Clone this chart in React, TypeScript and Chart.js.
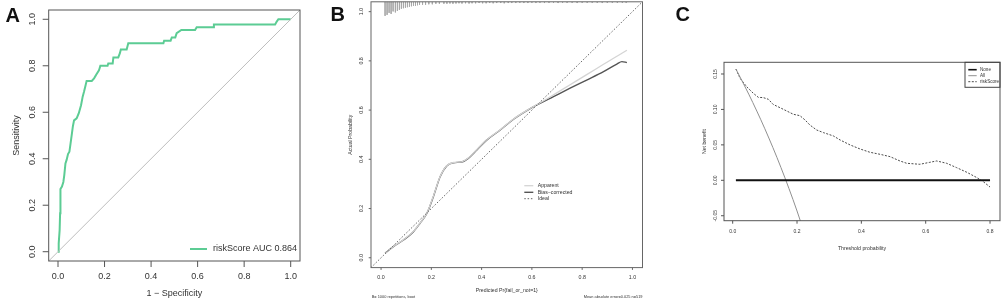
import { useEffect, useRef } from 'react';
import { Chart, registerables } from 'chart.js';
Chart.register(...registerables);

// ---------- Panel A: ROC ----------
const rocFpr = [0, 0.003, 0.007, 0.009, 0.010, 0.011, 0.017, 0.023, 0.027, 0.032, 0.037, 0.043, 0.049, 0.054, 0.060, 0.064, 0.069, 0.080, 0.089, 0.099, 0.106, 0.112, 0.117, 0.123, 0.145, 0.155, 0.166, 0.176, 0.182, 0.213, 0.216, 0.235, 0.238, 0.259, 0.266, 0.270, 0.295, 0.302, 0.453, 0.456, 0.484, 0.489, 0.504, 0.510, 0.530, 0.589, 0.596, 0.668, 0.670, 0.933, 0.940, 0.947, 1.0];
const rocTpr = [0, 0.036, 0.093, 0.165, 0.22, 0.27, 0.28, 0.30, 0.33, 0.38, 0.395, 0.42, 0.43, 0.466, 0.51, 0.54, 0.565, 0.574, 0.595, 0.63, 0.667, 0.689, 0.71, 0.735, 0.735, 0.746, 0.765, 0.78, 0.80, 0.80, 0.81, 0.81, 0.836, 0.836, 0.854, 0.87, 0.87, 0.897, 0.897, 0.908, 0.908, 0.922, 0.922, 0.94, 0.954, 0.954, 0.966, 0.966, 0.978, 0.978, 0.99, 1.0, 1.0];
const rocLegend = 'riskScore AUC 0.864';
const unitTicks = [0, 0.2, 0.4, 0.6, 0.8, 1.0];
const unitTickLabels = ['0.0', '0.2', '0.4', '0.6', '0.8', '1.0'];

// ---------- Panel B: calibration ----------
const calX = [0.016, 0.049, 0.089, 0.129, 0.155, 0.182, 0.208, 0.235, 0.261, 0.288, 0.321, 0.347, 0.381, 0.42, 0.474, 0.527, 0.58, 0.62, 0.686, 0.752, 0.818, 0.885, 0.938, 0.958, 0.978];
const calBias = [0.018, 0.045, 0.072, 0.106, 0.14, 0.18, 0.248, 0.329, 0.373, 0.386, 0.389, 0.404, 0.438, 0.478, 0.519, 0.563, 0.598, 0.621, 0.655, 0.689, 0.722, 0.756, 0.787, 0.797, 0.793];
const calApparent = [0.017, 0.046, 0.073, 0.107, 0.141, 0.181, 0.25, 0.33, 0.374, 0.387, 0.39, 0.405, 0.44, 0.479, 0.52, 0.564, 0.599, 0.622, 0.662, 0.703, 0.744, 0.786, 0.819, 0.831, 0.843];
const rugX = [0.016, 0.024, 0.032, 0.040, 0.048, 0.057, 0.065, 0.073, 0.081, 0.089, 0.097, 0.105, 0.113, 0.121, 0.129, 0.137, 0.145, 0.153, 0.165, 0.177, 0.19, 0.204, 0.218, 0.232, 0.25,
  0.262, 0.274, 0.286, 0.298, 0.31, 0.322, 0.336, 0.35, 0.362, 0.376, 0.39, 0.404, 0.418, 0.432, 0.446, 0.46, 0.476, 0.49, 0.506, 0.52, 0.536, 0.552, 0.568, 0.584, 0.6, 0.616, 0.632, 0.65, 0.668, 0.686, 0.704, 0.722, 0.74, 0.76, 0.78, 0.8, 0.82, 0.84, 0.86, 0.88, 0.9, 0.92, 0.94, 0.96, 0.975];
const rugLen = [0.057, 0.053, 0.045, 0.049, 0.039, 0.043, 0.037, 0.033, 0.028, 0.026, 0.024, 0.022, 0.020, 0.018, 0.016, 0.016, 0.014, 0.012, 0.012, 0.012, 0.010, 0.010, 0.008, 0.008, 0.008,
  0.008, 0.007, 0.008, 0.007, 0.006, 0.007, 0.006, 0.007, 0.006, 0.006, 0.005, 0.006, 0.006, 0.005, 0.006, 0.005, 0.005, 0.006, 0.005, 0.005, 0.005, 0.004, 0.005, 0.005, 0.004, 0.005, 0.004, 0.005, 0.004, 0.004, 0.005, 0.004, 0.004, 0.004, 0.005, 0.004, 0.004, 0.004, 0.004, 0.005, 0.004, 0.004, 0.004, 0.004, 0.004];
const calLegend = ['Apparent', 'Bias\u2212corrected', 'Ideal'];
const calXTitle = 'Predicted Pr{fail_or_not=1}';
const calYTitle = 'Actual Probability';
const calSubLeft = 'B= 1000 repetitions, boot';
const calSubRight = 'Mean absolute error=0.025 n=519';

// ---------- Panel C: decision curve ----------
const dcaThreshold = [0.01, 0.023, 0.0435, 0.064, 0.080, 0.095, 0.111, 0.126, 0.147, 0.168, 0.189, 0.209, 0.225, 0.240, 0.261, 0.282, 0.313, 0.334, 0.365, 0.396, 0.427, 0.458, 0.489, 0.520, 0.541, 0.582, 0.613, 0.634, 0.665, 0.696, 0.728, 0.759, 0.779, 0.80];
const dcaRisk = [0.157, 0.144, 0.132, 0.1228, 0.117, 0.1167, 0.1143, 0.107, 0.1025, 0.0978, 0.0931, 0.0912, 0.0851, 0.078, 0.071, 0.0673, 0.0626, 0.0569, 0.0499, 0.0442, 0.0395, 0.0367, 0.0334, 0.0273, 0.024, 0.0226, 0.0254, 0.0273, 0.024, 0.0179, 0.0113, 0.0038, -0.0019, -0.0095];
const dcaAllThreshold = [0.01, 0.05, 0.10, 0.15, 0.20, 0.25];
const dcaAll = [0.157, 0.1215, 0.0727, 0.0181, -0.0433, -0.1128];
const dcaNoneThreshold = [0.01, 0.80];
const dcaNone = [0, 0];
const dcaXTicks = [0, 0.2, 0.4, 0.6, 0.8];
const dcaXTickLabels = ['0.0', '0.2', '0.4', '0.6', '0.8'];
const dcaYTicks = [-0.05, 0, 0.05, 0.10, 0.15];
const dcaYTickLabels = ['-0.05', '0.00', '0.05', '0.10', '0.15'];
const dcaLegend = ['None', 'All', 'riskScore'];

const W = 1002;
const H = 302;
const FF = '"Liberation Sans", Arial, Helvetica, sans-serif';
const font = (s: number, bold = false) => `${bold ? 'bold ' : ''}${s}px ${FF}`;

const pts = (xs: number[], ys: number[]) => xs.map((x, i) => ({ x, y: ys[i] }));

type PanelCfg = {
  letter: string; letterX: number; letterY: number;
  xTicks: number[]; xTickLabels: string[]; yTicks: number[]; yTickLabels: string[];
  tickLen: number; tickFont: number; xLabelOff: number; yLabelOff: number;
  xTitle: string; yTitle: string; titleFont: number; xTitleOff: number; yTitleOff: number;
  boxColor: string; textColor: string;
  extra?: (ctx: CanvasRenderingContext2D, chart: any) => void;
};

function seg(ctx: CanvasRenderingContext2D, x1: number, y1: number, x2: number, y2: number) {
  ctx.beginPath(); ctx.moveTo(x1, y1); ctx.lineTo(x2, y2); ctx.stroke();
}

function panelPlugin(c: PanelCfg) {
  return {
    id: 'rPanel' + c.letter,
    afterDraw(chart: any) {
      const ctx: CanvasRenderingContext2D = chart.ctx;
      const a = chart.chartArea;
      const xs = chart.scales.x, ys = chart.scales.y;
      ctx.save();
      ctx.strokeStyle = c.boxColor; ctx.lineWidth = 1; ctx.setLineDash([]);
      ctx.strokeRect(a.left, a.top, a.right - a.left, a.bottom - a.top);
      ctx.fillStyle = c.textColor;
      ctx.font = font(c.tickFont);
      ctx.textAlign = 'center'; ctx.textBaseline = 'middle';
      c.xTicks.forEach((v, i) => {
        const px = xs.getPixelForValue(v);
        seg(ctx, px, a.bottom, px, a.bottom + c.tickLen);
        ctx.fillText(c.xTickLabels[i], px, a.bottom + c.xLabelOff);
      });
      c.yTicks.forEach((v, i) => {
        const py = ys.getPixelForValue(v);
        seg(ctx, a.left - c.tickLen, py, a.left, py);
        ctx.save(); ctx.translate(a.left - c.yLabelOff, py); ctx.rotate(-Math.PI / 2);
        ctx.fillText(c.yTickLabels[i], 0, 0); ctx.restore();
      });
      ctx.font = font(c.titleFont);
      ctx.fillText(c.xTitle, (a.left + a.right) / 2, a.bottom + c.xTitleOff);
      ctx.save(); ctx.translate(a.left - c.yTitleOff, (a.top + a.bottom) / 2); ctx.rotate(-Math.PI / 2);
      ctx.fillText(c.yTitle, 0, 0); ctx.restore();
      if (c.extra) c.extra(ctx, chart);
      ctx.fillStyle = '#111'; ctx.font = font(20, true);
      ctx.textAlign = 'left'; ctx.textBaseline = 'alphabetic';
      ctx.fillText(c.letter, c.letterX, c.letterY);
      ctx.restore();
    },
  };
}

function baseOptions(pad: { left: number; top: number; right: number; bottom: number }, xr: number[], yr: number[]) {
  return {
    responsive: false,
    animation: false as const,
    events: [] as any[],
    layout: { padding: pad },
    plugins: { legend: { display: false }, tooltip: { enabled: false }, title: { display: false } },
    scales: {
      x: { type: 'linear' as const, min: xr[0], max: xr[1], display: false },
      y: { type: 'linear' as const, min: yr[0], max: yr[1], display: false },
    },
  };
}

const GREEN = 'rgb(92,204,148)';

export default function App() {
  const refA = useRef<HTMLCanvasElement>(null);
  const refB = useRef<HTMLCanvasElement>(null);
  const refC = useRef<HTMLCanvasElement>(null);

  useEffect(() => {
    const charts: Chart[] = [];

    // ---- A ----
    const boxA = { left: 48.7, top: 10, right: 300, bottom: 261 };
    charts.push(new Chart(refA.current!, {
      type: 'scatter',
      data: {
        datasets: [
          { data: [{ x: -0.04, y: -0.04 }, { x: 1.04, y: 1.04 }], showLine: true, borderColor: '#bdbdbd', borderWidth: 1, pointRadius: 0 },
          { data: pts(rocFpr, rocTpr), showLine: true, borderColor: GREEN, borderWidth: 2, pointRadius: 0 },
        ],
      },
      options: baseOptions({ left: boxA.left, top: boxA.top, right: W - boxA.right, bottom: H - boxA.bottom }, [-0.04, 1.04], [-0.04, 1.04]) as any,
      plugins: [panelPlugin({
        letter: 'A', letterX: 5.5, letterY: 21.7,
        xTicks: unitTicks, xTickLabels: unitTickLabels, yTicks: unitTicks, yTickLabels: unitTickLabels,
        tickLen: 6, tickFont: 9, xLabelOff: 15.7, yLabelOff: 16.4,
        xTitle: '1 \u2212 Specificity', yTitle: 'Sensitivity', titleFont: 9, xTitleOff: 32.3, yTitleOff: 31.7,
        boxColor: '#555', textColor: '#333',
        extra: (ctx) => {
          ctx.strokeStyle = GREEN; ctx.lineWidth = 2;
          seg(ctx, 190, 249, 207, 249);
          ctx.fillStyle = '#333'; ctx.font = font(9); ctx.textAlign = 'left'; ctx.textBaseline = 'middle';
          ctx.fillText(rocLegend, 213, 249);
        },
      })],
    }));

    // ---- B ----
    const boxB = { left: 371, top: 1.8, right: 642.5, bottom: 267.6 };
    const rugPts: { x: number; y: number | null }[] = [];
    rugX.forEach((x, i) => { rugPts.push({ x, y: 1.04 }, { x, y: 1.04 - rugLen[i] }, { x, y: null }); });
    charts.push(new Chart(refB.current!, {
      type: 'scatter',
      data: {
        datasets: [
          { data: rugPts as any, showLine: true, spanGaps: false, borderColor: '#a8a8a8', borderWidth: 0.9, pointRadius: 0 },
          { data: [{ x: -0.04, y: -0.04 }, { x: 1.04, y: 1.04 }], showLine: true, borderColor: '#666', borderWidth: 1, borderDash: [1.5, 1.8], pointRadius: 0 },
          { data: pts(calX, calApparent), showLine: true, borderColor: '#d4d4d4', borderWidth: 1.3, pointRadius: 0, cubicInterpolationMode: 'monotone' },
          { data: pts(calX, calBias), showLine: true, borderColor: '#555', borderWidth: 1.4, pointRadius: 0, cubicInterpolationMode: 'monotone' },
        ],
      },
      options: baseOptions({ left: boxB.left, top: boxB.top, right: W - boxB.right, bottom: H - boxB.bottom }, [-0.04, 1.04], [-0.04, 1.04]) as any,
      plugins: [panelPlugin({
        letter: 'B', letterX: 330.5, letterY: 20.7,
        xTicks: unitTicks, xTickLabels: unitTickLabels, yTicks: unitTicks, yTickLabels: unitTickLabels,
        tickLen: 2.3, tickFont: 5.3, xLabelOff: 9.7, yLabelOff: 9.3,
        xTitle: calXTitle, yTitle: calYTitle, titleFont: 5.2, xTitleOff: 23.4, yTitleOff: 20.3,
        boxColor: '#666', textColor: '#333',
        extra: (ctx, chart) => {
          const a = chart.chartArea;
          const ys = [185.7, 192.3, 198.7];
          const styles = [
            { c: '#d4d4d4', w: 1.3, d: [] as number[] },
            { c: '#555', w: 1.4, d: [] as number[] },
            { c: '#666', w: 1, d: [1.5, 1.8] },
          ];
          ctx.font = font(5.2); ctx.textAlign = 'left'; ctx.textBaseline = 'middle';
          calLegend.forEach((t, i) => {
            ctx.strokeStyle = styles[i].c; ctx.lineWidth = styles[i].w; ctx.setLineDash(styles[i].d);
            seg(ctx, 524.3, ys[i], 533.3, ys[i]);
            ctx.setLineDash([]);
            ctx.fillStyle = '#333';
            ctx.fillText(t, 537.7, ys[i]);
          });
          ctx.font = font(3.9);
          ctx.fillText(calSubLeft, a.left + 0.7, 297.3);
          ctx.textAlign = 'right';
          ctx.fillText(calSubRight, a.right, 297.3);
        },
      })],
    }));

    // ---- C ----
    const boxC = { left: 724, top: 62.3, right: 1000, bottom: 220.7 };
    charts.push(new Chart(refC.current!, {
      type: 'scatter',
      data: {
        datasets: [
          { data: pts(dcaNoneThreshold, dcaNone), showLine: true, borderColor: '#111', borderWidth: 2, pointRadius: 0 },
          { data: pts(dcaAllThreshold, dcaAll), showLine: true, borderColor: '#909090', borderWidth: 1, pointRadius: 0, cubicInterpolationMode: 'monotone' },
          { data: pts(dcaThreshold, dcaRisk), showLine: true, borderColor: '#4a4a4a', borderWidth: 1, borderDash: [2, 1.5], pointRadius: 0 },
        ],
      },
      options: baseOptions({ left: boxC.left, top: boxC.top, right: W - boxC.right, bottom: H - boxC.bottom }, [-0.027, 0.831], [-0.057, 0.1665]) as any,
      plugins: [panelPlugin({
        letter: 'C', letterX: 675.5, letterY: 21.4,
        xTicks: dcaXTicks, xTickLabels: dcaXTickLabels, yTicks: dcaYTicks, yTickLabels: dcaYTickLabels,
        tickLen: 3, tickFont: 5, xLabelOff: 11, yLabelOff: 8,
        xTitle: 'Threshold probability', yTitle: 'Net benefit', titleFont: 5.2, xTitleOff: 27.6, yTitleOff: 19.7,
        boxColor: '#555', textColor: '#333',
        extra: (ctx, chart) => {
          const a = chart.chartArea;
          ctx.strokeStyle = '#444'; ctx.lineWidth = 1; ctx.setLineDash([]);
          ctx.strokeRect(965, a.top, a.right - 965, 87.3 - a.top);
          const ys = [69.7, 75.7, 81.7];
          const styles = [
            { c: '#111', w: 1.6, d: [] as number[] },
            { c: '#909090', w: 1, d: [] as number[] },
            { c: '#4a4a4a', w: 1, d: [2, 1.5] },
          ];
          ctx.font = font(4.6); ctx.textAlign = 'left'; ctx.textBaseline = 'middle';
          dcaLegend.forEach((t, i) => {
            ctx.strokeStyle = styles[i].c; ctx.lineWidth = styles[i].w; ctx.setLineDash(styles[i].d);
            seg(ctx, 968.3, ys[i], 976.7, ys[i]);
            ctx.setLineDash([]);
            ctx.fillStyle = '#333';
            ctx.fillText(t, 980, ys[i]);
          });
        },
      })],
    }));

    return () => { charts.forEach((c) => c.destroy()); };
  }, []);

  const cs: any = { position: 'absolute', left: 0, top: 0, width: W, height: H };
  return (
    <div style={{ position: 'fixed', left: 0, top: 0, width: W, height: H, background: '#fff', overflow: 'hidden' }}>
      <canvas ref={refA} width={W} height={H} style={cs} />
      <canvas ref={refB} width={W} height={H} style={cs} />
      <canvas ref={refC} width={W} height={H} style={cs} />
    </div>
  );
}
